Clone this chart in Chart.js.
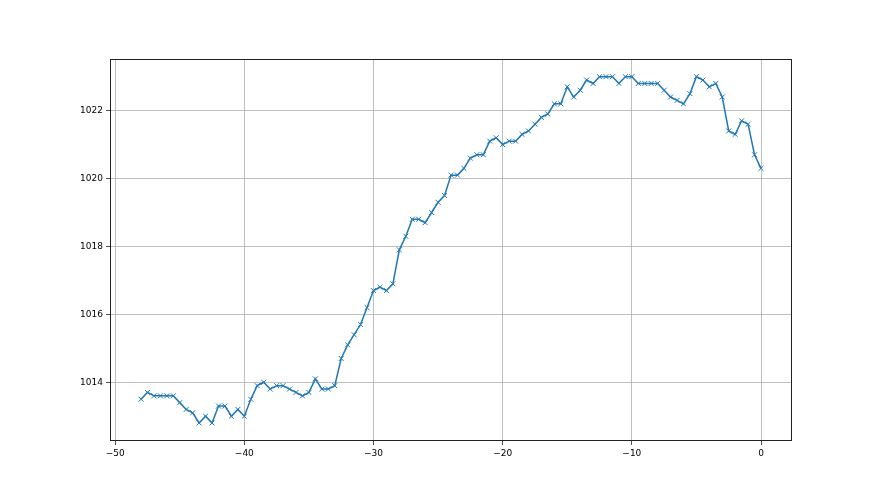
<!DOCTYPE html>
<html>
<head>
<meta charset="utf-8">
<script src="https://cdn.jsdelivr.net/npm/chart.js@4/dist/chart.umd.min.js"></script>
<style>
  html, body { margin: 0; padding: 0; background: #fff; }
  canvas { display: block; }
</style>
</head>
<body>
<canvas id="chart" width="880" height="495"></canvas>
<script>
// hours relative to now, one reading every half hour
const HOURS = [];
for (let i = 0; i <= 96; i++) HOURS.push(-48 + i * 0.5);

const PRESSURE = [
  1013.5, 1013.7, 1013.6, 1013.6, 1013.6, 1013.6, 1013.4, 1013.2, 1013.1, 1012.8,
  1013.0, 1012.8, 1013.3, 1013.3, 1013.0, 1013.2, 1013.0, 1013.5, 1013.9, 1014.0,
  1013.8, 1013.9, 1013.9, 1013.8, 1013.7, 1013.6, 1013.7, 1014.1, 1013.8, 1013.8,
  1013.9, 1014.7, 1015.1, 1015.4, 1015.7, 1016.2, 1016.7, 1016.8, 1016.7, 1016.9,
  1017.9, 1018.3, 1018.8, 1018.8, 1018.7, 1019.0, 1019.3, 1019.5, 1020.1, 1020.1,
  1020.3, 1020.6, 1020.7, 1020.7, 1021.1, 1021.2, 1021.0, 1021.1, 1021.1, 1021.3,
  1021.4, 1021.6, 1021.8, 1021.9, 1022.2, 1022.2, 1022.7, 1022.4, 1022.6, 1022.9,
  1022.8, 1023.0, 1023.0, 1023.0, 1022.8, 1023.0, 1023.0, 1022.8, 1022.8, 1022.8,
  1022.8, 1022.6, 1022.4, 1022.3, 1022.2, 1022.5, 1023.0, 1022.9, 1022.7, 1022.8,
  1022.4, 1021.4, 1021.3, 1021.7, 1021.6, 1020.7, 1020.3
];

const X_TICKS = [-50, -40, -30, -20, -10, 0];
const Y_TICKS = [1014, 1016, 1018, 1020, 1022];

const LINE_COLOR = "#1f77b4";
const GRID_COLOR = "#b0b0b0";

// matplotlib style box around the plot area
const frame = {
  id: "frame",
  afterDraw(chart) {
    const { ctx, chartArea: a } = chart;
    ctx.save();
    ctx.strokeStyle = "#222";
    ctx.lineWidth = 1;
    ctx.strokeRect(a.left + 0.5, a.top + 0.5, a.right - a.left - 1, a.bottom - a.top - 1);
    ctx.restore();
  },
};

Chart.defaults.font.family = "DejaVu Sans";
Chart.defaults.font.size = 9;
Chart.defaults.color = "#000";

new Chart(document.getElementById("chart"), {
  type: "line",
  data: {
    datasets: [{
      data: HOURS.map((h, i) => ({ x: h, y: PRESSURE[i] })),
      borderColor: LINE_COLOR,
      backgroundColor: LINE_COLOR,
      borderWidth: 1.5,
      pointStyle: "crossRot",
      pointRadius: 3.5,
      pointBorderWidth: 1,
      tension: 0,
    }],
  },
  options: {
    responsive: false,
    animation: false,
    layout: { padding: { left: 50, right: 88, top: 59, bottom: 34 } },
    plugins: { legend: { display: false }, tooltip: { enabled: false } },
    scales: {
      x: {
        type: "linear",
        min: -50.4,
        max: 2.4,
        afterBuildTicks: (s) => { s.ticks = X_TICKS.map((v) => ({ value: v })); },
        afterFit: (s) => { s.height = 20; },
        grid: { color: GRID_COLOR, lineWidth: 0.8, tickColor: "#222", tickLength: 4 },
        border: { display: false },
        ticks: { padding: 3, maxRotation: 0, callback: (v) => String(v).replace("-", "\u2212") },
      },
      y: {
        min: 1012.27,
        max: 1023.52,
        afterBuildTicks: (s) => { s.ticks = Y_TICKS.map((v) => ({ value: v })); },
        afterFit: (s) => { s.width = 60; },
        grid: { color: GRID_COLOR, lineWidth: 0.8, tickColor: "#222", tickLength: 4 },
        border: { display: false },
        ticks: { padding: 3, callback: (v) => String(v) },
      },
    },
  },
  plugins: [frame],
});
</script>
</body>
</html>
